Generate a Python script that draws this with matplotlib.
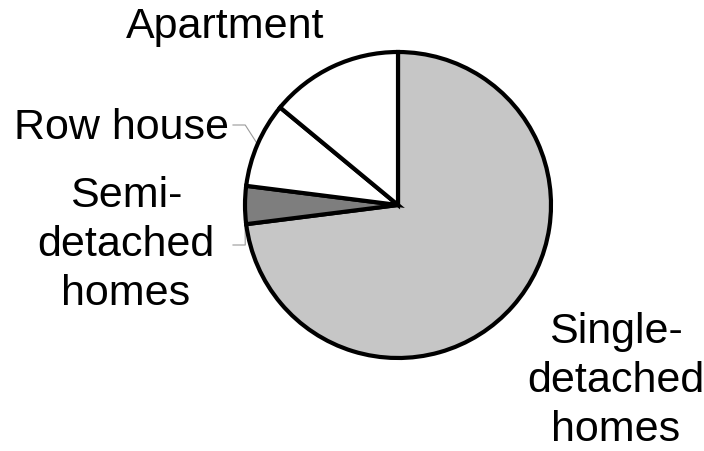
import numpy as np
import matplotlib.pyplot as plt

# ---- data ----
labels = ["Single-\ndetached\nhomes", "Semi-\ndetached\nhomes", "Row house", "Apartment"]
shares = [73, 4, 9, 14]
colors = ["#c6c6c6", "#7e7e7e", "#ffffff", "#ffffff"]

plt.rcParams['font.family'] = ['Liberation Sans', 'DejaVu Sans']

# figure is 704x451 px; pie centre at (398, 205) px, radius 153 px
W, H, R_PX = 704, 451, 153
CX, CY = 398, 205
fig = plt.figure(figsize=(7.04, 4.51), dpi=100)
ax = fig.add_axes([0, 0, 1, 1])

wedges, _ = ax.pie(shares, colors=colors, startangle=90, counterclock=False,
                   radius=1.0, center=(0, 0), frame=True,
                   wedgeprops=dict(edgecolor="black", linewidth=3.0))
ax.set_xlim(-CX / R_PX, (W - CX) / R_PX)
ax.set_ylim(-(H - CY) / R_PX, CY / R_PX)
ax.set_aspect("auto")
ax.axis("off")


def px(x, y):
    # pixel position (from top-left) -> data coords
    return (x - CX) / R_PX, (CY - y) / R_PX


fs = 31
# label placements (pixel positions)
ax.text(*px(225, 27), labels[3], fontsize=fs, ha="center", va="center")
ax.text(*px(229, 128), labels[2], fontsize=fs, ha="right", va="center")
ax.text(*px(126, 245), labels[1], fontsize=fs, ha="center", va="center",
        linespacing=1.3, multialignment="center")
ax.text(*px(616, 381), labels[0], fontsize=fs, ha="center", va="center",
        linespacing=1.28, multialignment="center")

# leader lines for the two small wedges
for w, (tx, ty) in zip([wedges[2], wedges[1]], [(233, 125), (233, 245)]):
    mid = np.deg2rad((w.theta1 + w.theta2) / 2)
    ex, ey = np.cos(mid), np.sin(mid)
    sx, sy = px(tx, ty)
    kx = sx + 0.08
    ax.plot([sx, kx, ex], [sy, sy, ey], color="#9a9a9a", lw=0.8, zorder=0)

fig.savefig("out.png", dpi=100, facecolor="white")
